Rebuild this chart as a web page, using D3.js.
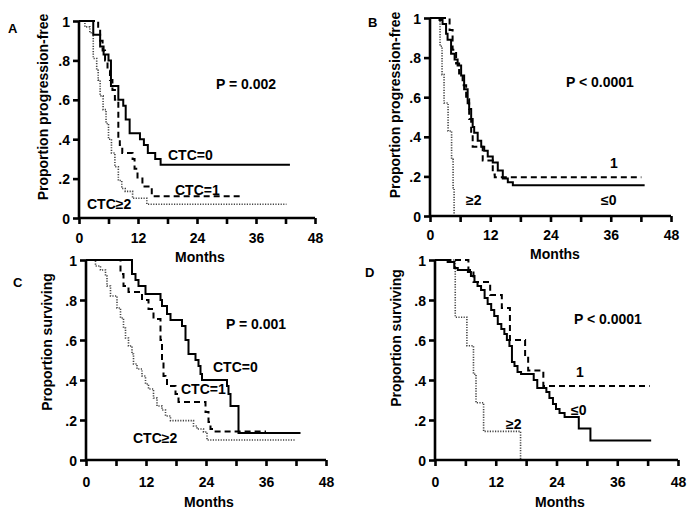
<!DOCTYPE html>
<html><head><meta charset="utf-8">
<script src="https://cdn.jsdelivr.net/npm/d3@7"></script>
<style>
html,body{margin:0;padding:0;background:#fff;}
svg{display:block;font-family:"Liberation Sans",Arial,sans-serif;font-weight:bold;}
</style></head>
<body><svg id="chart" width="696" height="514"></svg>
<script>
// ---- data ----
const monthTicks = [0, 12, 24, 36, 48];
const monthMinorTicks = [6, 18, 30, 42];
const yTicks = [0, 0.2, 0.4, 0.6, 0.8, 1];
const yTickLabels = ["0", ".2", ".4", ".6", ".8", "1"];

// Panel A: progression-free, CTC=0 / CTC=1 / CTC>=2  [month, proportion]
const A_ctc0 = [[0,1],[2.9,0.93],[4.3,0.87],[5.0,0.83],[6.0,0.8],[6.5,0.67],[8.0,0.6],[9.0,0.57],[9.5,0.5],[10.3,0.43],[12.4,0.4],[13.2,0.37],[14.0,0.33],[15.5,0.3],[16.6,0.27],[42.9,0.27]];
const A_ctc1 = [[0,1],[3.9,0.95],[4.3,0.9],[4.8,0.85],[5.3,0.8],[5.8,0.75],[6.3,0.7],[6.8,0.65],[7.3,0.6],[8.0,0.4],[8.3,0.37],[8.8,0.33],[10.9,0.3],[11.3,0.25],[11.9,0.2],[12.9,0.16],[14.8,0.11],[32.7,0.11]];
const A_ctc2 = [[0,1],[1.2,0.97],[2.2,0.94],[2.9,0.81],[3.6,0.75],[3.9,0.7],[4.3,0.62],[4.9,0.55],[5.5,0.48],[6.0,0.4],[6.6,0.33],[7.3,0.26],[8.0,0.19],[8.7,0.15],[9.4,0.135],[10.9,0.1],[13.8,0.07],[42.2,0.07]];

// Panel B: progression-free, <=0 / 1 / >=2
const B_le0 = [[0,1],[1.9,0.99],[2.5,0.97],[3.2,0.92],[3.5,0.89],[4.2,0.82],[4.9,0.79],[5.5,0.76],[6.2,0.71],[6.8,0.64],[7.5,0.57],[7.8,0.54],[8.2,0.49],[8.5,0.45],[8.8,0.42],[9.5,0.38],[10.2,0.35],[10.8,0.33],[11.5,0.3],[12.5,0.27],[13.5,0.23],[14.5,0.19],[15.5,0.17],[16.5,0.155],[42.75,0.155]];
const B_one = [[0,1],[3.9,0.94],[4.5,0.84],[5.2,0.77],[5.8,0.72],[6.5,0.66],[7.2,0.59],[7.8,0.49],[8.2,0.42],[8.5,0.35],[10.5,0.28],[12.5,0.21],[12.9,0.196],[42.1,0.196]];
const B_ge2 = [[0,1],[2.0,0.857],[2.4,0.714],[2.8,0.571],[3.6,0.429],[4.3,0.286],[4.6,0.143],[4.8,0]];

// Panel C: surviving, CTC=0 / CTC=1 / CTC>=2
const C_ctc0 = [[0,1],[9.2,0.93],[9.9,0.9],[10.5,0.87],[11.9,0.83],[14.9,0.8],[15.2,0.77],[16.2,0.73],[16.9,0.7],[19.2,0.67],[19.9,0.6],[20.5,0.53],[21.9,0.5],[22.5,0.47],[22.9,0.43],[23.2,0.4],[28.2,0.37],[28.5,0.33],[28.9,0.27],[30.5,0.135],[42.9,0.135]];
const C_ctc1 = [[0,1],[6.9,0.93],[7.5,0.87],[8.5,0.84],[11.2,0.8],[12.5,0.755],[13.5,0.705],[14.9,0.6],[15.2,0.5],[15.5,0.42],[15.9,0.4],[16.2,0.37],[17.9,0.33],[18.5,0.29],[23.9,0.24],[24.5,0.19],[24.9,0.155],[25.5,0.143],[36.0,0.143]];
const C_ctc2 = [[0,1],[1.9,0.97],[2.9,0.95],[3.9,0.92],[4.2,0.87],[4.9,0.82],[6.2,0.76],[6.9,0.71],[7.5,0.66],[7.9,0.61],[8.5,0.57],[9.2,0.53],[9.5,0.48],[10.2,0.455],[11.2,0.42],[11.9,0.38],[12.5,0.355],[13.5,0.31],[14.2,0.27],[15.2,0.25],[15.9,0.22],[16.9,0.197],[21.5,0.17],[22.2,0.155],[23.5,0.14],[24.2,0.1],[41.9,0.1]];

// Panel D: surviving, <=0 / 1 / >=2
const D_le0 = [[0,1],[2.5,0.99],[3.8,0.96],[4.5,0.95],[6.5,0.94],[7.1,0.92],[7.8,0.89],[8.4,0.87],[9.1,0.85],[9.8,0.81],[10.4,0.78],[11.1,0.75],[11.7,0.72],[12.4,0.68],[13.1,0.655],[13.7,0.63],[14.2,0.6],[14.7,0.57],[15.2,0.49],[15.7,0.47],[16.3,0.44],[17.0,0.43],[19.5,0.4],[20.2,0.36],[22.0,0.34],[22.6,0.31],[23.3,0.28],[23.9,0.255],[24.6,0.235],[25.6,0.215],[28.4,0.157],[30.7,0.097],[42.7,0.097]];
const D_one = [[0,1],[6.6,0.95],[7.6,0.89],[10.9,0.825],[13.2,0.76],[14.8,0.6],[17.8,0.52],[18.4,0.447],[21.4,0.37],[42.4,0.37]];
const D_ge2 = [[0,1],[4.0,0.714],[6.3,0.571],[7.6,0.429],[8.1,0.286],[9.6,0.143],[16.9,0]];

const panelLetters = ["A", "B", "C", "D"];
const yTitles = ["Proportion progression-free", "Proportion progression-free", "Proportion surviving", "Proportion surviving"];
const xTitle = "Months";
const pValues = ["P = 0.002", "P < 0.0001", "P = 0.001", "P < 0.0001"];
const groupLabelsAC = ["CTC=0", "CTC=1", "CTC\u22652"];
const groupLabelsBD = ["\u22640", "1", "\u22652"];

// ---- layout ----
const panels = [
  {x0:79, x1:315, yT:21, yB:218, series:[A_ctc0,A_ctc1,A_ctc2], labels:groupLabelsAC,
   letter:[8,33], ytitle:[43,107], xtitle:[200,262], xtickY:243,
   p:[216,89], lab:[[168,160],[175,195],[87,209]]},
  {x0:430, x1:671, yT:18, yB:216, series:[B_le0,B_one,B_ge2], labels:groupLabelsBD,
   letter:[368,27], ytitle:[395,105], xtitle:[555,259], xtickY:240,
   p:[566,87], lab:[[601,205],[610,168],[466,205]]},
  {x0:86, x1:326, yT:260, yB:460, series:[C_ctc0,C_ctc1,C_ctc2], labels:groupLabelsAC,
   letter:[13,287], ytitle:[47,342], xtitle:[209,507], xtickY:487,
   p:[226,329], lab:[[213,372],[181,394],[133,443]]},
  {x0:435, x1:678, yT:260, yB:460, series:[D_le0,D_one,D_ge2], labels:groupLabelsBD,
   letter:[365,277], ytitle:[396,338], xtitle:[560,507], xtickY:487,
   p:[574,324], lab:[[571,415],[576,377],[506,429]]}
];
const styles = [
  {stroke:"#000", width:2, dash:null},
  {stroke:"#000", width:2, dash:"6,4"},
  {stroke:"#444", width:1.6, dash:"1.2,1.4"}
];

const svg = d3.select("#chart");
svg.append("rect").attr("width",696).attr("height",514).attr("fill","#fff");

panels.forEach((P, i) => {
  const x = d3.scaleLinear().domain([0,48]).range([P.x0, P.x1]);
  const y = d3.scaleLinear().domain([0,1]).range([P.yB, P.yT]);
  const g = svg.append("g");

  // curves
  const line = d3.line().x(d => x(d[0])).y(d => y(d[1])).curve(d3.curveStepAfter);
  P.series.slice().reverse().forEach((s, k) => {
    const idx = P.series.length - 1 - k;
    const st = styles[idx];
    g.append("path").attr("d", line(s)).attr("fill","none")
      .attr("stroke", st.stroke).attr("stroke-width", st.width)
      .attr("stroke-dasharray", st.dash).attr("stroke-linejoin","miter");
  });

  // x axis
  const xa = d3.axisBottom(x).tickValues(monthTicks).tickSize(6).tickFormat(d3.format("d"));
  const xg = g.append("g").attr("transform", `translate(0,${P.yB})`).call(xa);
  xg.selectAll("g.tick").filter(function(){return false;});
  const xm = d3.axisBottom(x).tickValues(monthMinorTicks).tickSize(6).tickFormat("");
  const xmg = g.append("g").attr("transform", `translate(0,${P.yB})`).call(xm);
  xmg.select(".domain").remove();
  // y axis
  const ya = d3.axisLeft(y).tickValues(yTicks).tickSize(6).tickFormat((d, j) => yTickLabels[j]);
  const yg = g.append("g").attr("transform", `translate(${P.x0},0)`).call(ya);

  [xg, xmg, yg].forEach(a => {
    a.selectAll("path.domain").attr("stroke","#000").attr("stroke-width",2.6);
    a.selectAll(".tick line").attr("stroke","#000").attr("stroke-width",2.6);
    a.selectAll(".tick text").attr("fill","#000").attr("font-size",14)
      .attr("font-family","'Liberation Sans',Arial,sans-serif").attr("font-weight","bold");
  });
  xg.select("path.domain").attr("d", `M${P.x0},0H${P.x1}`);
  xg.selectAll(".tick text").attr("dy", null).attr("y", P.xtickY - P.yB);
  yg.select("path.domain").attr("d", `M0,${P.yB}V${P.yT}`);
  yg.selectAll(".tick text").attr("x", -9).attr("dy", "0.36em");

  // texts
  const T = (t, px, py, anchor) => g.append("text").text(t).attr("x", px).attr("y", py)
      .attr("font-size", 14).attr("text-anchor", anchor || "start").attr("fill","#000");
  T(panelLetters[i], P.letter[0], P.letter[1]).attr("font-size", 13);
  T(pValues[i], P.p[0], P.p[1]);
  P.labels.forEach((lb, j) => T(lb, P.lab[j][0], P.lab[j][1]));
  T(xTitle, P.xtitle[0], P.xtitle[1], "middle");
  g.append("text").text(yTitles[i])
    .attr("transform", `translate(${P.ytitle[0]},${P.ytitle[1]}) rotate(-90)`)
    .attr("text-anchor","middle").attr("dominant-baseline","central")
    .attr("font-size",14).attr("fill","#000");
});
</script></body></html>
